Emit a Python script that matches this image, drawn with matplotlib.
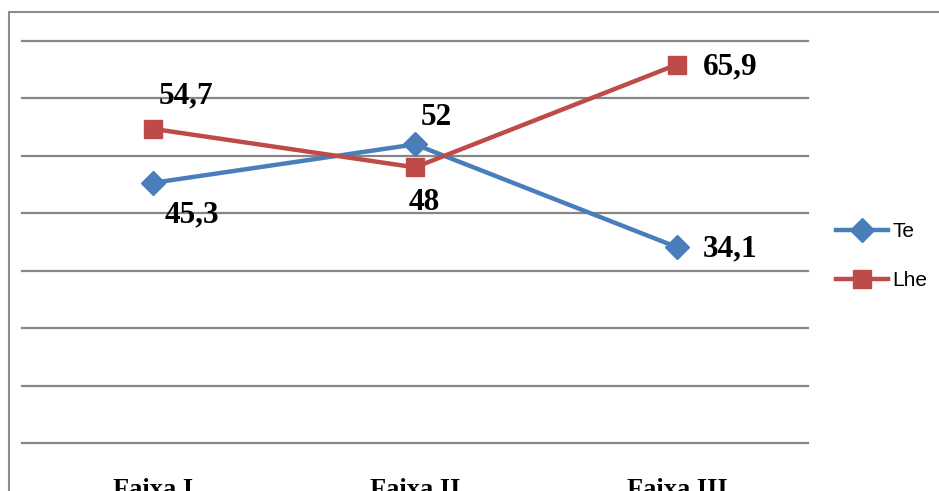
import matplotlib
matplotlib.use("Agg")
import matplotlib.pyplot as plt
from matplotlib.patches import Rectangle

categories = ["Faixa I", "Faixa II", "Faixa III"]
te_values = [45.3, 52, 34.1]
lhe_values = [54.7, 48, 65.9]
te_labels = ["45,3", "52", "34,1"]
lhe_labels = ["54,7", "48", "65,9"]

W, H = 939, 491
fig = plt.figure(figsize=(W / 100, H / 100), dpi=100)
fig.patch.set_facecolor("white")

# outer chart border (extends past the right and bottom edges)
fig.patches.append(Rectangle((9 / W, -0.1), 1.2, 1 - 12 / H + 0.1,
                             transform=fig.transFigure, fill=False,
                             edgecolor="#8c8c8c", linewidth=1.5))

ax = fig.add_axes([22 / W, (H - 443) / H, (808 - 22) / W, (443 - 41) / H])
ax.set_xlim(-0.5, 2.5)
ax.set_ylim(0, 70)
ax.set_yticks(range(0, 71, 10))
ax.yaxis.grid(True, color="#868686", linewidth=1.6)
for gl in ax.yaxis.get_gridlines():
    gl.set_clip_on(False)
ax.set_axisbelow(True)
for s in ax.spines.values():
    s.set_visible(False)
ax.tick_params(length=0, labelleft=False)
ax.set_xticks(range(len(categories)))
ax.set_xticklabels(categories, fontfamily="Liberation Serif", fontweight="bold",
                   fontsize=19)
ax.tick_params(axis="x", pad=25)

x = list(range(len(categories)))
blue = "#4A7EBB"
red = "#BE4B48"
ax.plot(x, te_values, color=blue, linewidth=3.2, marker="D", markersize=12,
        markeredgecolor=blue, label="Te", zorder=3)
ax.plot(x, lhe_values, color=red, linewidth=3.2, marker="s", markersize=12.5,
        markeredgecolor=red, label="Lhe", zorder=3)

lab_kw = dict(fontfamily="Liberation Serif", fontweight="bold", fontsize=22.5,
              ha="center", va="center", textcoords="offset points")
te_offsets = [(28, -23), (15, 19), (38, -1)]
lhe_offsets = [(24, 24), (6.5, -25), (38, -1.5)]
for xi, v, t, off in zip(x, te_values, te_labels, te_offsets):
    ax.annotate(t, (xi, v), xytext=off, **lab_kw)
for xi, v, t, off in zip(x, lhe_values, lhe_labels, lhe_offsets):
    ax.annotate(t, (xi, v), xytext=off, **lab_kw)

leg = fig.legend(loc="center left", bbox_to_anchor=(828 / W, 1 - 256 / H),
                 frameon=False, prop={"family": "Liberation Sans", "size": 15},
                 handlelength=2.5, handletextpad=0.2, labelspacing=1.45,
                 borderaxespad=0)

fig.savefig("out.png", dpi=100)
